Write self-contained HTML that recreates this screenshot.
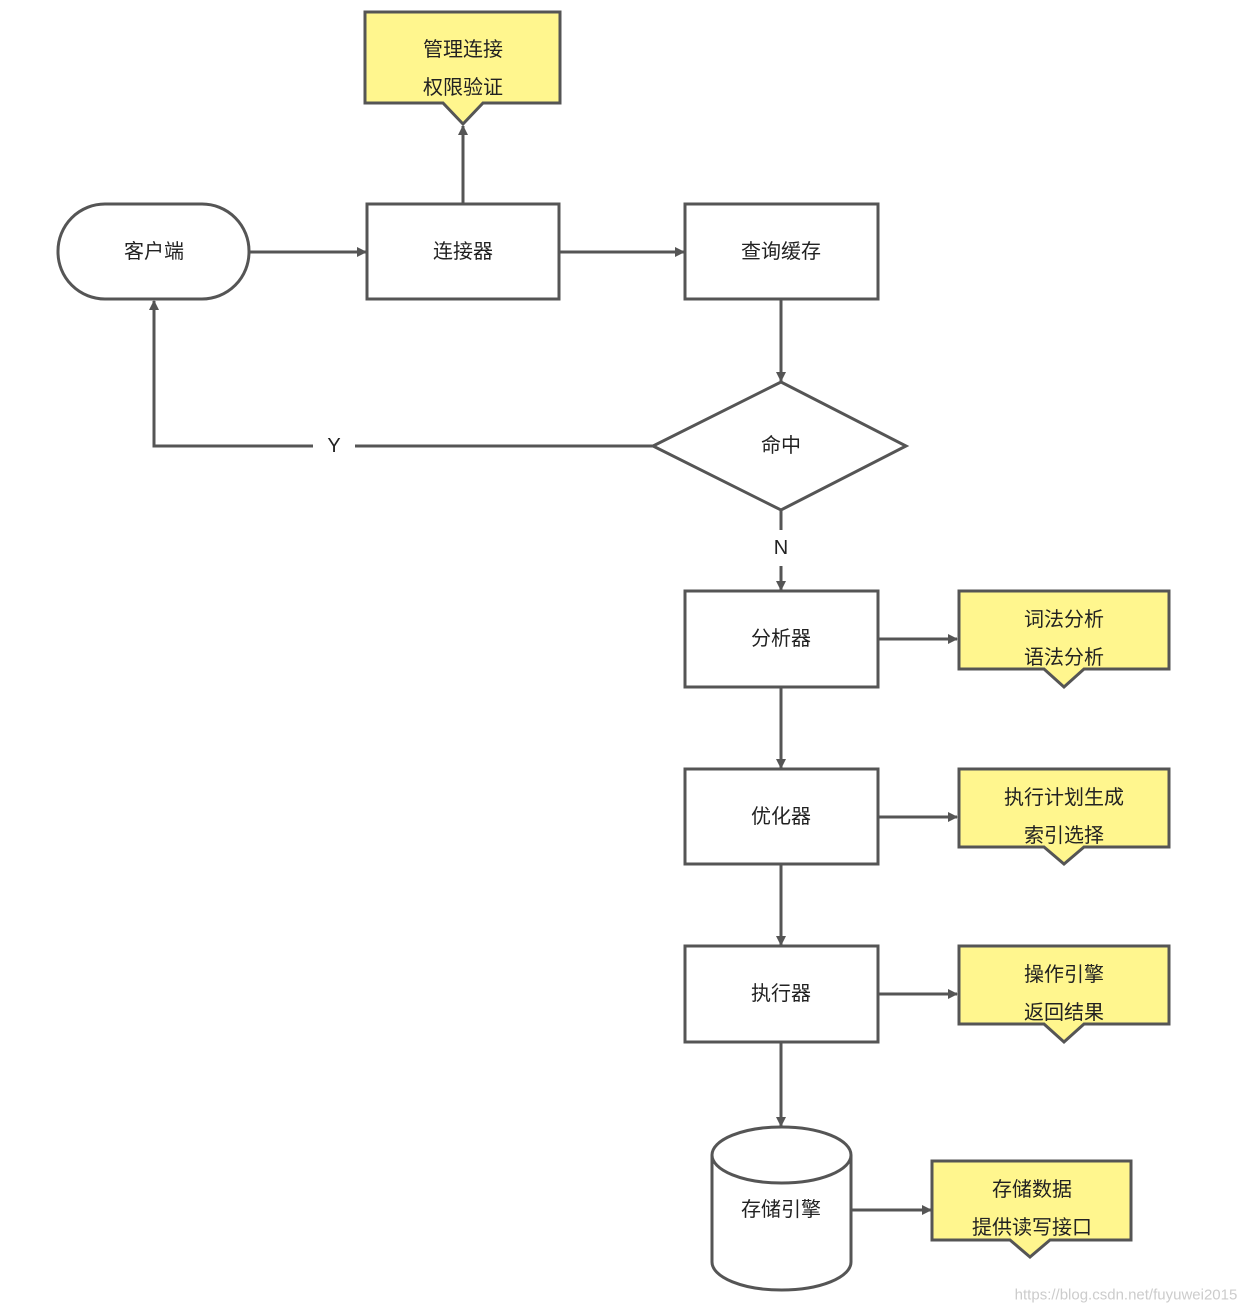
<!DOCTYPE html>
<html><head><meta charset="utf-8"><style>
html,body{margin:0;padding:0;background:#fff;}
svg{display:block;}
text{font-family:"Liberation Sans","Noto Sans CJK SC",sans-serif;font-size:20px;fill:#222;text-anchor:middle;dominant-baseline:central;}
</style></head><body>
<svg width="1254" height="1310" viewBox="0 0 1254 1310" xmlns="http://www.w3.org/2000/svg">
<defs>
<marker id="a" markerWidth="10" markerHeight="10" refX="9" refY="5" orient="auto" markerUnits="userSpaceOnUse" viewBox="0 0 10 10">
<path d="M0,0 L10,5 L0,10 z" fill="#555"/></marker>
</defs>
<g stroke="#555" stroke-width="3" fill="none">
<!-- callout top -->
<path d="M365,12 H560 V103 H483 L463,124 L443,103 H365 Z" fill="#fff68e"/>
<rect x="58" y="204" width="191" height="95" rx="47" fill="#fff"/>
<rect x="367" y="204" width="192" height="95" fill="#fff"/>
<rect x="685" y="204" width="193" height="95" fill="#fff"/>
<path d="M781,382 L906,446 L781,510 L653,446 Z" fill="#fff"/>
<rect x="685" y="591" width="193" height="96" fill="#fff"/>
<rect x="685" y="769" width="193" height="95" fill="#fff"/>
<rect x="685" y="946" width="193" height="96" fill="#fff"/>
<path d="M959,591 H1169 V669 H1084 L1064,687 L1044,669 H959 Z" fill="#fff68e"/>
<path d="M959,769 H1169 V847 H1084 L1064,864 L1044,847 H959 Z" fill="#fff68e"/>
<path d="M959,946 H1169 V1024 H1084 L1064,1042 L1044,1024 H959 Z" fill="#fff68e"/>
<path d="M932,1161 H1131 V1240 H1050 L1030,1257 L1010,1240 H932 Z" fill="#fff68e"/>
<!-- cylinder -->
<path d="M712,1155 V1262 A69.5,28 0 0 0 851,1262 V1155" fill="#fff"/>
<ellipse cx="781.5" cy="1155" rx="69.5" ry="28" fill="#fff"/>
<!-- connectors -->
<line x1="249" y1="252" x2="366" y2="252" marker-end="url(#a)"/>
<line x1="463" y1="204" x2="463" y2="126" marker-end="url(#a)"/>
<line x1="559" y1="252" x2="684" y2="252" marker-end="url(#a)"/>
<line x1="781" y1="299" x2="781" y2="381" marker-end="url(#a)"/>
<line x1="653" y1="446" x2="355" y2="446"/>
<polyline points="313,446 154,446 154,301" marker-end="url(#a)"/>
<line x1="781" y1="510" x2="781" y2="530"/>
<line x1="781" y1="566" x2="781" y2="590" marker-end="url(#a)"/>
<line x1="878" y1="639" x2="957" y2="639" marker-end="url(#a)"/>
<line x1="781" y1="687" x2="781" y2="768" marker-end="url(#a)"/>
<line x1="878" y1="817" x2="957" y2="817" marker-end="url(#a)"/>
<line x1="781" y1="864" x2="781" y2="945" marker-end="url(#a)"/>
<line x1="878" y1="994" x2="957" y2="994" marker-end="url(#a)"/>
<line x1="781" y1="1042" x2="781" y2="1126" marker-end="url(#a)"/>
<line x1="851" y1="1210" x2="931" y2="1210" marker-end="url(#a)"/>
</g>
<text x="463" y="50">管理连接</text>
<text x="463" y="88">权限验证</text>
<text x="154" y="252">客户端</text>
<text x="463" y="252">连接器</text>
<text x="781" y="252">查询缓存</text>
<text x="781" y="446">命中</text>
<text x="334" y="446">Y</text>
<text x="781" y="548">N</text>
<text x="781" y="639">分析器</text>
<text x="1064" y="620">词法分析</text>
<text x="1064" y="658">语法分析</text>
<text x="781" y="817">优化器</text>
<text x="1064" y="798">执行计划生成</text>
<text x="1064" y="836">索引选择</text>
<text x="781" y="994">执行器</text>
<text x="1064" y="975">操作引擎</text>
<text x="1064" y="1013">返回结果</text>
<text x="781" y="1210">存储引擎</text>
<text x="1032" y="1190">存储数据</text>
<text x="1032" y="1228">提供读写接口</text>
<text x="1126" y="1295" style="font-size:15px;fill:#ccc;">https://blog.csdn.net/fuyuwei2015</text>
</svg>
</body></html>
